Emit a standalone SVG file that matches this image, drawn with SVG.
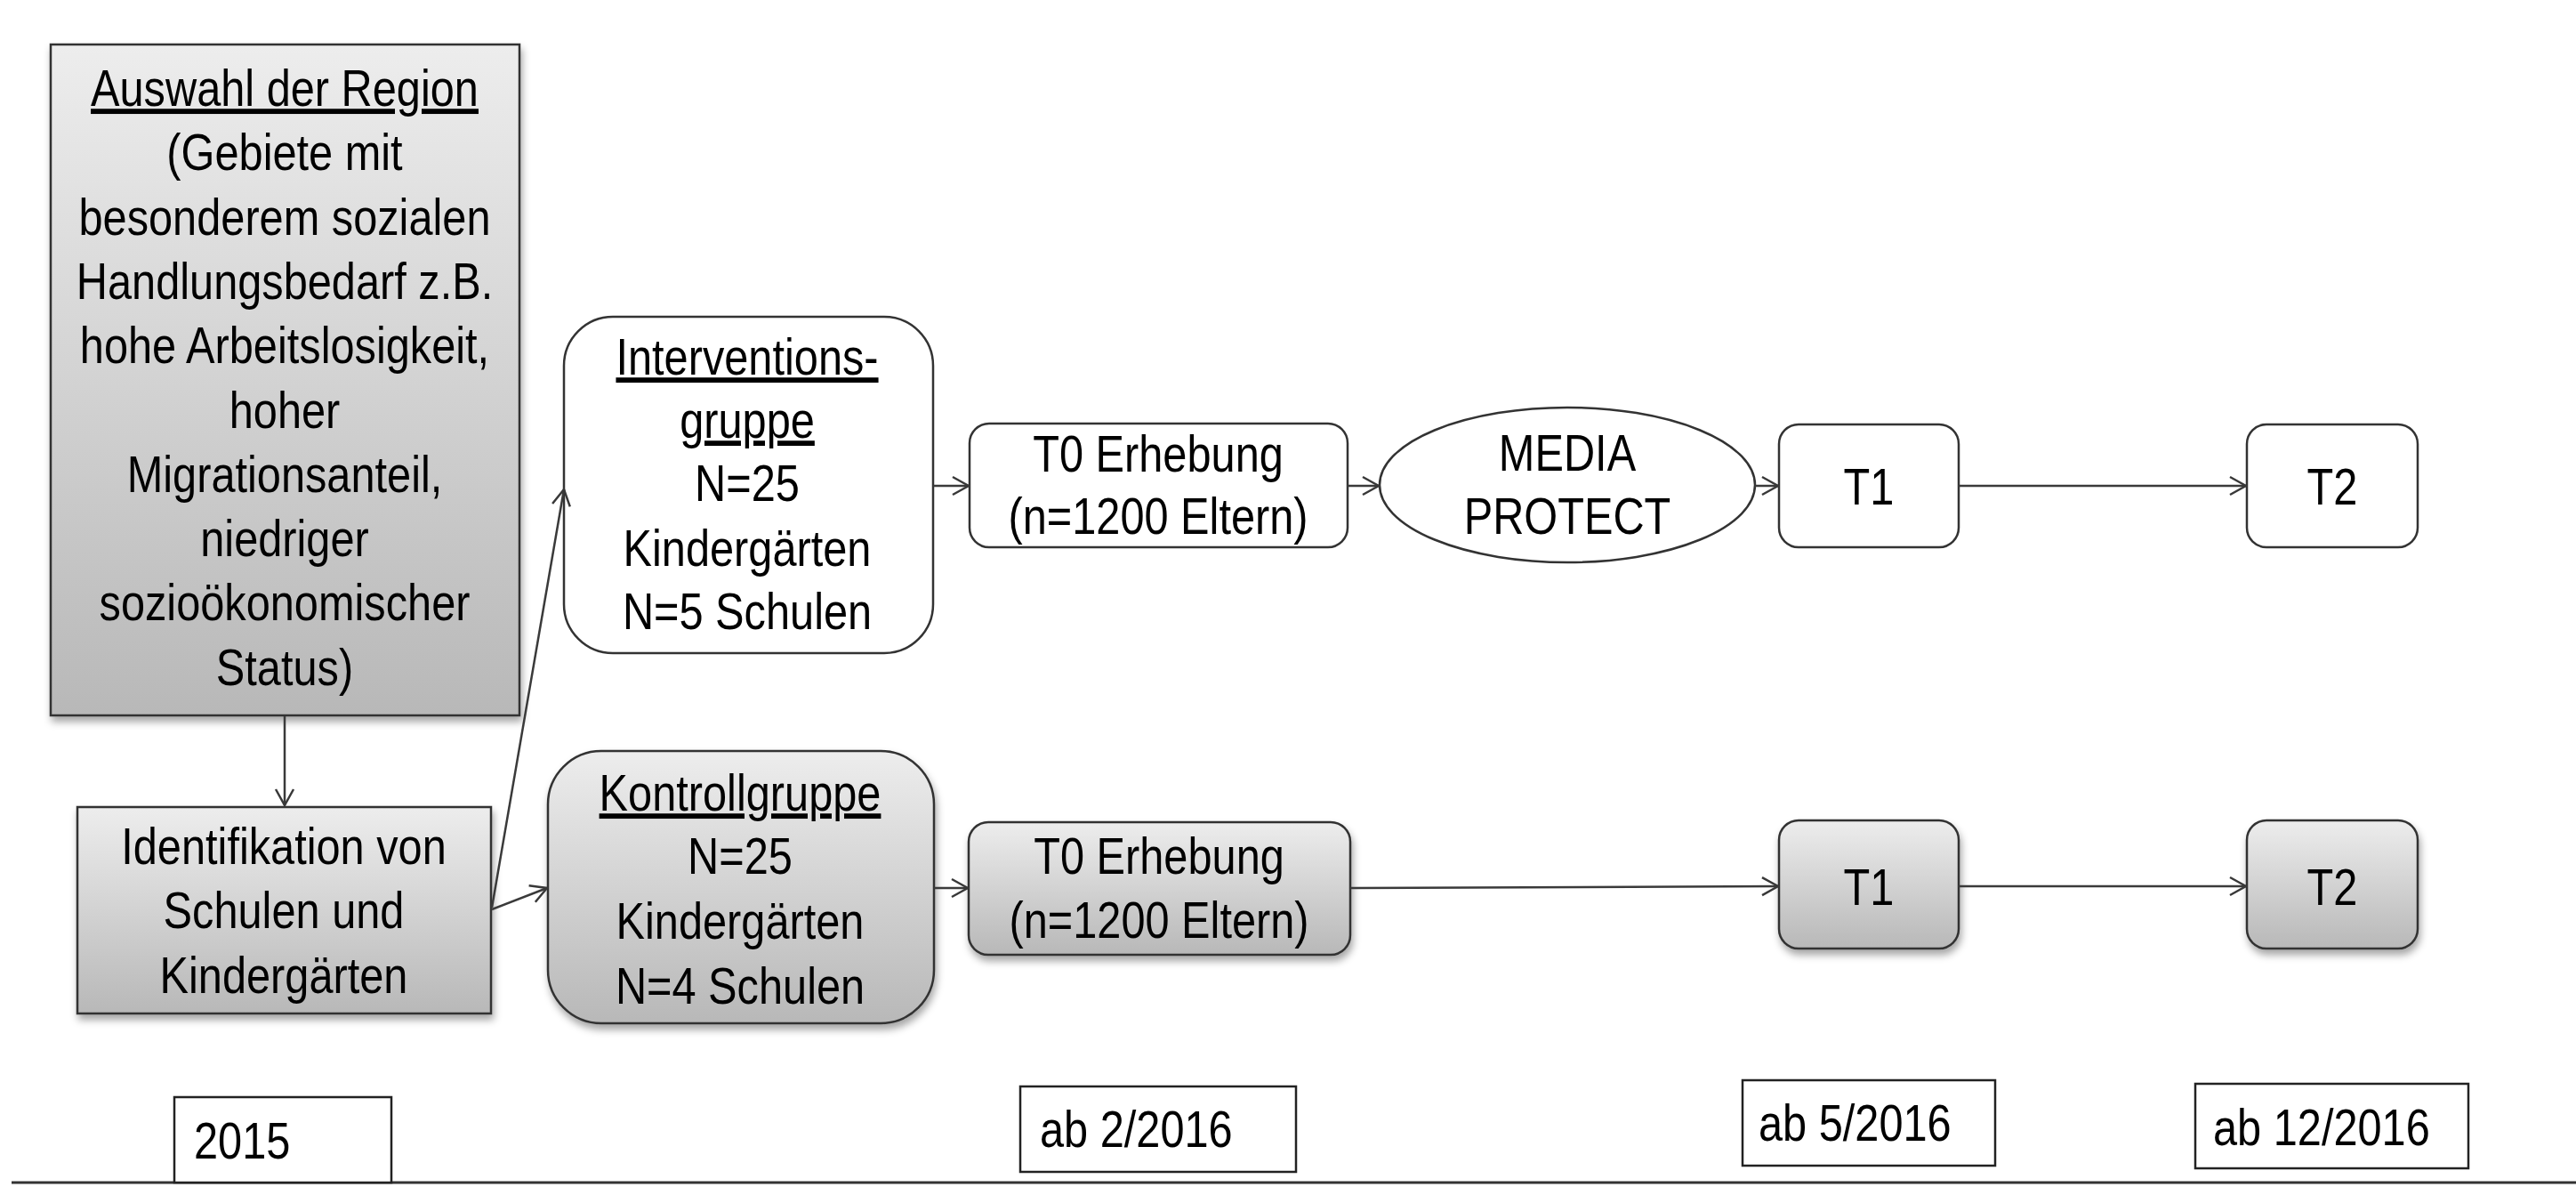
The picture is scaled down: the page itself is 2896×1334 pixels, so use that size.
<svg xmlns="http://www.w3.org/2000/svg" width="2896" height="1334" viewBox="0 0 2896 1334">
<defs>
<linearGradient id="g" x1="0" y1="0" x2="0" y2="1">
<stop offset="0" stop-color="#ededed"/>
<stop offset="1" stop-color="#b8b8b8"/>
</linearGradient>
<filter id="sh" x="-10%" y="-10%" width="130%" height="130%">
<feDropShadow dx="2" dy="6" stdDeviation="4" flood-color="#000" flood-opacity="0.35"/>
</filter>
<marker id="arr" markerWidth="24" markerHeight="24" viewBox="-22 -12 24 24" refX="0" refY="0" orient="auto" markerUnits="userSpaceOnUse">
<path d="M-18,-10 L0,0 L-18,10" fill="none" stroke="#383838" stroke-width="2.5"/>
</marker>
</defs>
<style>
text{font-family:"Liberation Sans",Arial,sans-serif;font-size:58px;fill:#000;}
.c{text-anchor:middle;}
.u{text-decoration:underline;}
.box{stroke:#333;stroke-width:2.5;}
.gray{fill:url(#g);filter:url(#sh);}
.white{fill:#fff;}
.con line{stroke:#3a3a3a;stroke-width:2.5;fill:none;marker-end:url(#arr);}
.date{fill:#fff;stroke:#222;stroke-width:2.5;}
</style>
<rect width="2896" height="1334" fill="#fff"/>

<g id="auswahl">
<rect class="box gray" x="57" y="50" width="527" height="754"/>
<text class="c u" transform="translate(320 119) scale(.84 1)">Auswahl der Region</text>
<text class="c" transform="translate(320 191) scale(.84 1)">(Gebiete mit</text>
<text class="c" transform="translate(320 264) scale(.84 1)">besonderem sozialen</text>
<text class="c" transform="translate(320 336) scale(.84 1)">Handlungsbedarf z.B.</text>
<text class="c" transform="translate(320 408) scale(.84 1)">hohe Arbeitslosigkeit,</text>
<text class="c" transform="translate(320 481) scale(.84 1)">hoher</text>
<text class="c" transform="translate(320 553) scale(.84 1)">Migrationsanteil,</text>
<text class="c" transform="translate(320 625) scale(.84 1)">niedriger</text>
<text class="c" transform="translate(320 697) scale(.84 1)">sozioökonomischer</text>
<text class="c" transform="translate(320 770) scale(.84 1)">Status)</text>
</g>

<g id="identifikation">
<rect class="box gray" x="87" y="907" width="465" height="232"/>
<text class="c" transform="translate(319 971) scale(.84 1)">Identifikation von</text>
<text class="c" transform="translate(319 1043) scale(.84 1)">Schulen und</text>
<text class="c" transform="translate(319 1116) scale(.84 1)">Kindergärten</text>
</g>

<g id="interventionsgruppe">
<rect class="box white" x="634" y="356" width="415" height="378" rx="55" ry="55"/>
<text class="c u" transform="translate(840 421) scale(.84 1)">Interventions-</text>
<text class="c u" transform="translate(840 492) scale(.84 1)">gruppe</text>
<text class="c" transform="translate(840 563) scale(.84 1)">N=25</text>
<text class="c" transform="translate(840 636) scale(.84 1)">Kindergärten</text>
<text class="c" transform="translate(840 707) scale(.84 1)">N=5 Schulen</text>
</g>

<g id="kontrollgruppe">
<rect class="box gray" x="616" y="844" width="434" height="306" rx="60" ry="60"/>
<text class="c u" transform="translate(832 911) scale(.84 1)">Kontrollgruppe</text>
<text class="c" transform="translate(832 982) scale(.84 1)">N=25</text>
<text class="c" transform="translate(832 1055) scale(.84 1)">Kindergärten</text>
<text class="c" transform="translate(832 1128) scale(.84 1)">N=4 Schulen</text>
</g>

<g id="t0-top">
<rect class="box white" x="1090" y="476" width="425" height="139" rx="22" ry="22"/>
<text class="c" transform="translate(1302 530) scale(.84 1)">T0 Erhebung</text>
<text class="c" transform="translate(1302 600) scale(.84 1)">(n=1200 Eltern)</text>
</g>

<g id="media-protect">
<ellipse class="box white" cx="1762" cy="545" rx="211" ry="87"/>
<text class="c" transform="translate(1762 529) scale(.84 1)">MEDIA</text>
<text class="c" transform="translate(1762 600) scale(.84 1)">PROTECT</text>
</g>

<g id="t1-top">
<rect class="box white" x="2000" y="477" width="202" height="138" rx="22" ry="22"/>
<text class="c" transform="translate(2101 567) scale(.84 1)">T1</text>
</g>

<g id="t2-top">
<rect class="box white" x="2526" y="477" width="192" height="138" rx="22" ry="22"/>
<text class="c" transform="translate(2622 567) scale(.84 1)">T2</text>
</g>

<g id="t0-bottom">
<rect class="box gray" x="1089" y="924" width="429" height="149" rx="22" ry="22"/>
<text class="c" transform="translate(1303 982) scale(.84 1)">T0 Erhebung</text>
<text class="c" transform="translate(1303 1054) scale(.84 1)">(n=1200 Eltern)</text>
</g>

<g id="t1-bottom">
<rect class="box gray" x="2000" y="922" width="202" height="144" rx="22" ry="22"/>
<text class="c" transform="translate(2101 1017) scale(.84 1)">T1</text>
</g>

<g id="t2-bottom">
<rect class="box gray" x="2526" y="922" width="192" height="144" rx="22" ry="22"/>
<text class="c" transform="translate(2622 1017) scale(.84 1)">T2</text>
</g>

<g id="connectors" class="con">
<line x1="320" y1="805" x2="320" y2="905"/>
<line x1="553" y1="1020" x2="634" y2="550"/>
<line x1="553" y1="1022" x2="615" y2="998"/>
<line x1="1049" y1="546" x2="1089" y2="546"/>
<line x1="1515" y1="546" x2="1550" y2="546"/>
<line x1="1973" y1="546" x2="1999" y2="546"/>
<line x1="2202" y1="546" x2="2525" y2="546"/>
<line x1="1050" y1="998" x2="1088" y2="998"/>
<line x1="1518" y1="998" x2="1999" y2="996"/>
<line x1="2202" y1="996" x2="2525" y2="996"/>
</g>

<g id="timeline">
<line x1="13" y1="1329" x2="2896" y2="1329" stroke="#333" stroke-width="3"/>
</g>

<g id="date-2015">
<rect class="date" x="196" y="1233" width="244" height="96"/>
<text transform="translate(218 1302) scale(.84 1)">2015</text>
</g>
<g id="date-2-2016">
<rect class="date" x="1147" y="1221" width="310" height="96"/>
<text transform="translate(1169 1289) scale(.84 1)">ab 2/2016</text>
</g>
<g id="date-5-2016">
<rect class="date" x="1959" y="1214" width="284" height="96"/>
<text transform="translate(1977 1282) scale(.84 1)">ab 5/2016</text>
</g>
<g id="date-12-2016">
<rect class="date" x="2468" y="1218" width="307" height="95"/>
<text transform="translate(2488 1287) scale(.84 1)">ab 12/2016</text>
</g>
</svg>
